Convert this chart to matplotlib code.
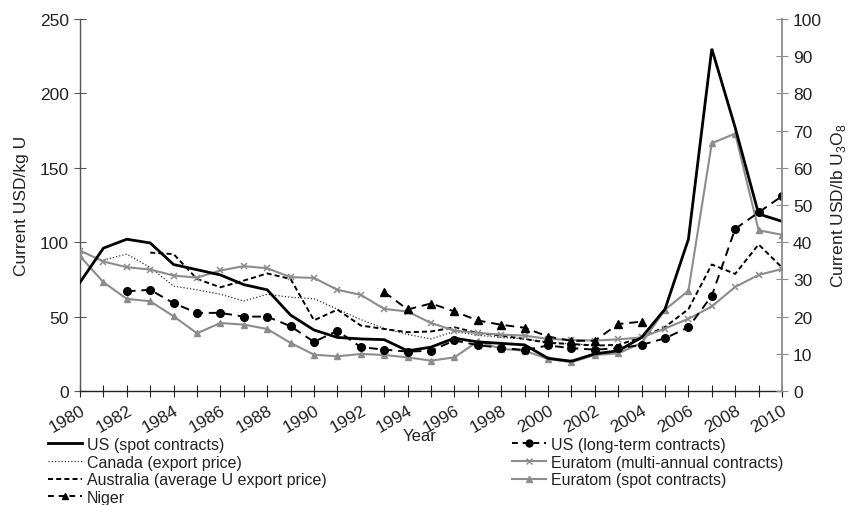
import numpy as np
import matplotlib
matplotlib.use("Agg")
import matplotlib.pyplot as plt
from matplotlib import font_manager
from matplotlib.lines import Line2D

# ---- data (current USD/kg U) ----
years = list(range(1980, 2011))

us_spot = [73, 96, 102, 99.5, 85, 81.5, 78, 71.5, 68, 51,
           41, 36, 35, 34.5, 27, 29.5, 35.5, 33, 32, 31,
           22, 20, 25, 27, 36, 55, 102, 230, 177, 119, 114]

us_longterm_years = list(range(1982, 2011))
us_longterm = [67, 68, 59, 52.5, 52.5, 50, 50, 43.5,
               33, 40.5, 29.5, 27.8, 26.5, 27, 34, 30.8, 29, 27.5,
               30.6, 28.8, 27.8, 28.7, 31, 35.4, 42.8, 64, 109, 120, 131]

canada_years = list(range(1981, 2003))
canada = [88, 92, 83, 70.5, 68, 65, 60.5, 65, 63,
          62, 55, 48, 42, 38, 35, 40, 37.5, 36, 35,
          33, 31.5, 31]

australia_years = list(range(1983, 2011))
australia = [93, 92, 75.3, 69.7, 74.2, 79, 75.3,
             47.5, 54.7, 44, 41.7, 39.5, 40, 42.8, 39, 37.2, 35,
             32.3, 31.6, 30.5, 31, 36, 43, 55, 85, 78.7, 98.5, 83]

euratom_multi = [94.4, 87, 83.2, 81.6, 77.6, 76.2, 81, 83.9, 82.5, 76.5,
                 76, 68, 64.6, 55.2, 53.4, 45.7, 40.6, 39, 37.9, 37.2,
                 35, 34.3, 33.9, 34.7, 36, 42, 48.5, 56.8, 70, 78, 82]

euratom_spot = [90.6, 73.1, 61.9, 60.3, 50.2, 38.8, 45.7, 44.6, 41.7, 32.3,
                24.4, 23.3, 24.9, 24.2, 22.6, 20.4, 22.6, 33.4, 28.3, 27.1,
                21.5, 19.3, 24.2, 25.3, 32.3, 54.6, 67.4, 166.5, 173, 108, 105]

niger_years = list(range(1993, 2005))
niger = [66.5, 54.8, 58.8, 53.5, 47.4, 44.5, 42.5, 36.6, 33.7, 33.8, 45, 46.6]

left_ticks = [0, 50, 100, 150, 200, 250]
right_ticks = [0, 10, 20, 30, 40, 50, 60, 70, 80, 90, 100]

# ---- fonts ----
available = {f.name for f in font_manager.fontManager.ttflist}
main_font = "Liberation Sans Narrow" if "Liberation Sans Narrow" in available else "Liberation Sans"
plt.rcParams["font.family"] = [main_font, "DejaVu Sans"]
plt.rcParams["mathtext.fontset"] = "custom"
plt.rcParams["mathtext.rm"] = main_font

TEXT = "#222222"
GRAY = "#8c8c8c"
FS = 12.5
LEG_FS = 11.5

fig = plt.figure(figsize=(8.48, 5.06), dpi=100)
ax = fig.add_axes([80 / 848, 1 - 392 / 506, (782 - 80) / 848, (392 - 20) / 506])

# ---- series ----
ax.plot(years, us_spot, color="black", lw=2.0, solid_joinstyle="miter", zorder=5)
ax.plot(canada_years, canada, color="#333333", lw=0.9, linestyle=(0, (1, 1.6)), zorder=3)
ax.plot(australia_years, australia, color="black", lw=1.4, linestyle=(0, (2.6, 1.6)), zorder=3)
ax.plot(niger_years, niger, color="black", lw=1.4, linestyle=(0, (4.5, 3)),
        marker="^", markersize=5.5, markerfacecolor="black", markeredgecolor="black", zorder=4)
ax.plot(us_longterm_years, us_longterm, color="black", lw=1.4, linestyle=(0, (4.5, 3)),
        marker="o", markersize=5.5, markerfacecolor="black", markeredgecolor="black", zorder=4)
ax.plot(years, euratom_multi, color=GRAY, lw=1.5, marker="x", markersize=5,
        markeredgewidth=1.1, zorder=3)
ax.plot(years, euratom_spot, color=GRAY, lw=1.5, marker="^", markersize=5,
        markerfacecolor=GRAY, markeredgecolor=GRAY, zorder=3)

# ---- axes ----
ax.set_xlim(1980, 2010)
ax.set_ylim(0, 250)
ax.spines["top"].set_visible(False)
ax.spines["right"].set_visible(False)
ax.spines["left"].set_color("#555555")
ax.spines["bottom"].set_color("#222222")
ax.spines["left"].set_linewidth(1.0)
ax.spines["bottom"].set_linewidth(1.0)

ax.set_xticks(years)
ax.set_xticklabels([str(y) if y % 2 == 0 else "" for y in years],
                   rotation=30, ha="right", rotation_mode="anchor",
                   fontsize=FS, color=TEXT)
ax.tick_params(axis="x", direction="inout", length=8, width=0.8, color="#222222", pad=4)

ax.set_yticks(left_ticks)
ax.set_yticklabels([str(v) for v in left_ticks], fontsize=FS, color=TEXT)
ax.tick_params(axis="y", direction="inout", length=8, width=0.8, color="#555555", pad=4)
ax.set_ylabel("Current USD/kg U", fontsize=FS, color=TEXT, labelpad=8)

ax2 = ax.twinx()
ax2.set_ylim(0, 100)
for s in ["top", "left", "bottom"]:
    ax2.spines[s].set_visible(False)
ax2.spines["right"].set_color(GRAY)
ax2.spines["right"].set_linewidth(1.3)
ax2.set_yticks(right_ticks)
ax2.set_yticklabels([str(v) for v in right_ticks], fontsize=FS, color=TEXT)
ax2.tick_params(axis="y", direction="inout", length=8, width=0.8, color=GRAY, pad=4)
ax2.set_ylabel("Current USD/lb U$_3$O$_8$", fontsize=FS, color=TEXT, labelpad=5)

fig.text(420 / 848, 1 - 437 / 506, "Year", fontsize=12, color=TEXT, ha="center", va="center")

# ---- legend ----
left_handles = [
    Line2D([], [], color="black", lw=2.0),
    Line2D([], [], color="#333333", lw=0.9, linestyle=(0, (1, 1.6))),
    Line2D([], [], color="black", lw=1.4, linestyle=(0, (2.6, 1.6))),
    Line2D([], [], color="black", lw=1.4, linestyle=(0, (3, 2.5)), marker="^", markersize=5),
]
left_labels = ["US (spot contracts)", "Canada (export price)",
               "Australia (average U export price)", "Niger"]
right_handles = [
    Line2D([], [], color="black", lw=1.4, linestyle=(0, (3, 2.5)), marker="o", markersize=5),
    Line2D([], [], color=GRAY, lw=1.5, marker="x", markersize=4.5, markeredgewidth=1),
    Line2D([], [], color=GRAY, lw=1.5, marker="^", markersize=4.5),
]
right_labels = ["US (long-term contracts)", "Euratom (multi-annual contracts)",
                "Euratom (spot contracts)"]

common = dict(frameon=False, fontsize=LEG_FS, loc="upper left", handlelength=2.1,
              handletextpad=0.35, labelspacing=0.16, borderpad=0, borderaxespad=0,
              numpoints=1, labelcolor=TEXT)
leg1 = fig.legend(left_handles, left_labels, bbox_to_anchor=(48 / 848, 1 - 438 / 506), **common)
leg2 = fig.legend(right_handles, right_labels, bbox_to_anchor=(512 / 848, 1 - 438 / 506), **common)

fig.savefig("out.png", dpi=100)
